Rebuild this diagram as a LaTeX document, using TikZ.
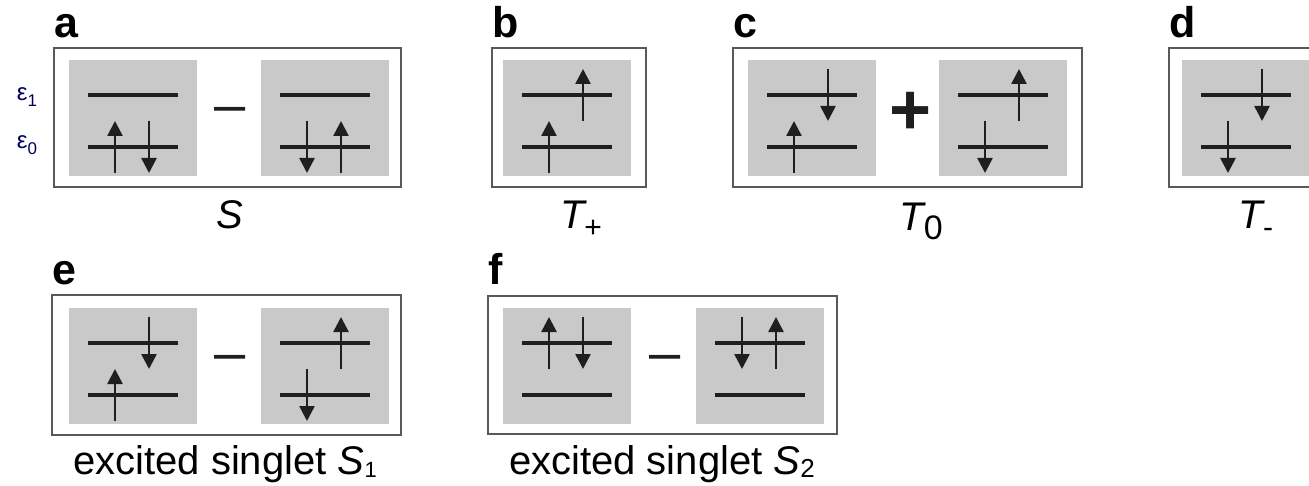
\documentclass[tikz,border=0pt]{standalone}
\usepackage{fontspec}
\setmainfont{Liberation Sans}
\usetikzlibrary{arrows.meta,positioning}

\newcommand\lowsub[3][30]{\raisebox{#2}{\fontsize{#1}{#1}\selectfont\upshape #3}}

\tikzset{
  panelbox/.style={draw=black!65, line width=2.5pt, fill=white},
  cellbg/.style={fill=black!21, draw=none},
  level/.style={line width=3.4pt, draw=black!88},
  spin/.style={-{Triangle[width=15pt,length=15pt]}, line width=2.6pt, draw=black!88, fill=black!88},
  tag/.style={font=\fontsize{43}{43}\selectfont\bfseries, anchor=base west, inner sep=0pt},
  statename/.style={font=\fontsize{40}{44}\selectfont, anchor=base, inner sep=0pt},
  sign/.style={inner sep=0pt, text=black!88},
  elabel/.style={text=blue!35!black, font=\fontsize{24}{24}\selectfont, inner sep=0pt},
  cell/.pic={
    \fill[cellbg] (0,0) rectangle (128,116);
    \draw[level] (19,35) -- (109,35);
    \draw[level] (19,87) -- (109,87);
  },
  up/.pic={\draw[spin] (0,26) -- (0,-26);},
  dn/.pic={\draw[spin] (0,-26) -- (0,26);}
}

\begin{document}
\begin{tikzpicture}[x=1pt, y=-1pt]
  \useasboundingbox (0,0) rectangle (1309,486);

  % outer frames
  \draw[panelbox] (54,48) rectangle (401,187);
  \draw[panelbox] (492,48) rectangle (646,187);
  \draw[panelbox] (733,48) rectangle (1082,187);
  \draw[panelbox] (1169,48) rectangle (1330,187);
  \draw[panelbox] (52,295) rectangle (401,435);
  \draw[panelbox] (488,296) rectangle (837,434);

  % grey cells, top row
  \foreach \x in {69,261,503,748,939,1182}
    \pic at (\x,60) {cell};
  % grey cells, bottom row
  \foreach \x in {69,261,503,696}
    \pic at (\x,308) {cell};

  % a: S
  \pic at (115,147) {up};  \pic at (149,147) {dn};
  \pic at (307,147) {dn};  \pic at (341,147) {up};
  % b: T+
  \pic at (583,95) {up};   \pic at (549,147) {up};
  % c: T0
  \pic at (828,95) {dn};   \pic at (794,147) {up};
  \pic at (1019,95) {up};  \pic at (985,147) {dn};
  % d: T-
  \pic at (1262,95) {dn};  \pic at (1228,147) {dn};
  % e: S1
  \pic at (149,343) {dn};  \pic at (115,395) {up};
  \pic at (341,343) {up};  \pic at (307,395) {dn};
  % f: S2
  \pic at (549,343) {up};  \pic at (583,343) {dn};
  \pic at (742,343) {dn};  \pic at (776,343) {up};

  % signs
  \node[sign, font=\fontsize{56}{56}\selectfont] (minusA) at (230,115) {–};
  \node[sign, font=\fontsize{72}{72}\selectfont\bfseries] (plusC) at (911,113) {+};
  \node[sign, font=\fontsize{56}{56}\selectfont] (minusE) at (230,363) {–};
  \node[sign, font=\fontsize{56}{56}\selectfont] (minusF) at (665,363) {–};

  % level labels
  \node[elabel] (eps1) at (27,97) {ε\lowsub[17]{-0.25em}{1}};
  \node[elabel] (eps0) at (27,145) {ε\lowsub[17]{-0.25em}{0}};

  % panel letters
  \node[tag] (tagA) at (54,38) {a};
  \node[tag] (tagB) at (492,38) {b};
  \node[tag] (tagC) at (733,38) {c};
  \node[tag] (tagD) at (1169,38) {d};
  \node[tag] (tagE) at (52,285) {e};
  \node[tag] (tagF) at (488,285) {f};

  % state names
  \node[statename] (nameS) at (230,229) {\itshape S};
  \node[statename] (nameTp) at (581,229) {\itshape T\lowsub{-0.22em}{+}};
  \node[statename] (nameTz) at (921,231) {\itshape T\lowsub[34]{-0.22em}{0}};
  \node[statename] (nameTm) at (1256,229) {\itshape T\lowsub{-0.22em}{-}};
  \node[statename] (nameSa) at (225,474) {excited singlet \textit{S}\lowsub[22]{-0.08em}{1}};
  \node[statename] (nameSb) at (662,474) {excited singlet \textit{S}\lowsub[26]{-0.08em}{2}};
\end{tikzpicture}
\end{document}
